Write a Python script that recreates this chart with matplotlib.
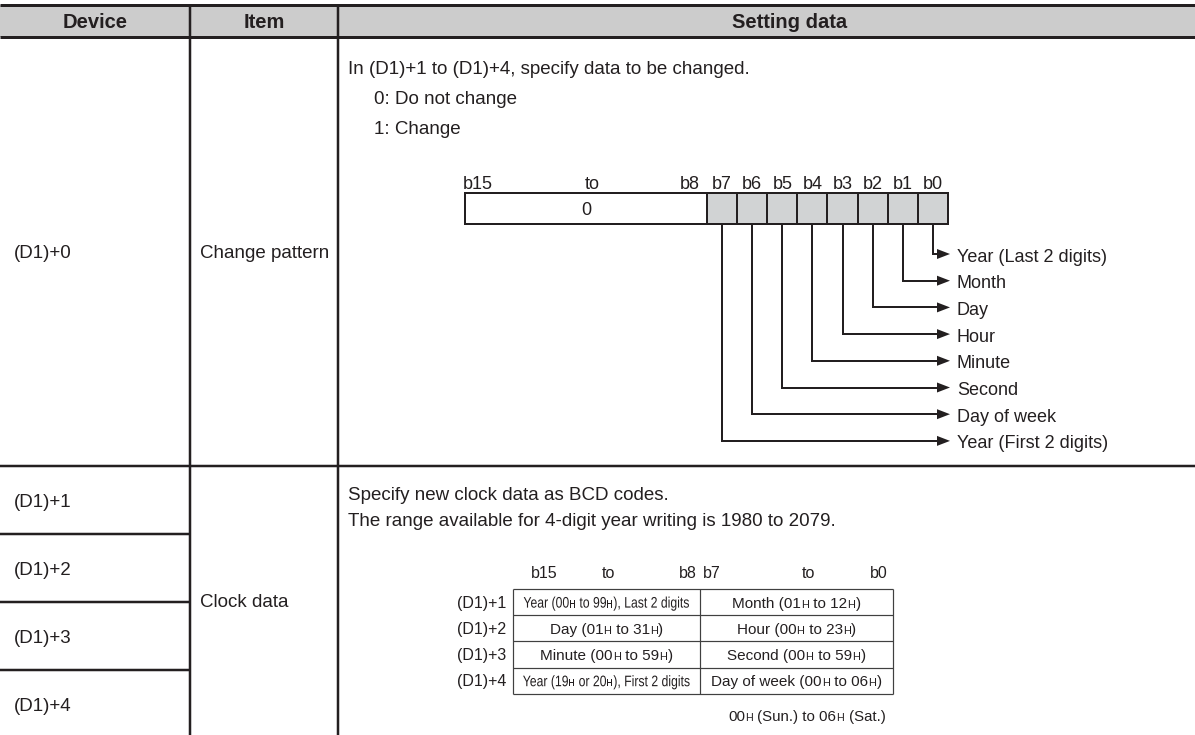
import re
import matplotlib
matplotlib.use('Agg')
import matplotlib.pyplot as plt
from matplotlib import font_manager as fm
from matplotlib.font_manager import FontProperties
from matplotlib.patches import Rectangle, Polygon, PathPatch
from matplotlib.textpath import TextPath
from matplotlib.transforms import Affine2D

# ---------------- data ----------------
header_labels = ['Device', 'Item', 'Setting data']
device_labels = ['(D1)+0', '(D1)+1', '(D1)+2', '(D1)+3', '(D1)+4']
item_labels = ['Change pattern', 'Clock data']
pattern_lines = ['In (D1)+1 to (D1)+4, specify data to be changed.',
                 '0: Do not change', '1: Change']
pattern_high_labels = ['b15', 'to', 'b8']
pattern_high_value = '0'
pattern_bits = ['b7', 'b6', 'b5', 'b4', 'b3', 'b2', 'b1', 'b0']
pattern_targets = ['Year (Last 2 digits)', 'Month', 'Day', 'Hour', 'Minute',
                   'Second', 'Day of week', 'Year (First 2 digits)']  # b0 .. b7
clock_lines = ['Specify new clock data as BCD codes.',
               'The range available for 4-digit year writing is 1980 to 2079.']
clock_bit_labels = ['b15', 'to', 'b8', 'b7', 'to', 'b0']
clock_rows = ['(D1)+1', '(D1)+2', '(D1)+3', '(D1)+4']
clock_high = ['Year (00H to 99H), Last 2 digits', 'Day (01H to 31H)',
              'Minute (00H to 59H)', 'Year (19H or 20H), First 2 digits']
clock_low = ['Month (01H to 12H)', 'Hour (00H to 23H)',
             'Second (00H to 59H)', 'Day of week (00H to 06H)']
clock_note = '00H (Sun.) to 06H (Sat.)'

# ---------------- style ----------------
W, H = 1195, 735
FONT = 'Liberation Sans'
TXT = '#231f20'
LINE = '#231f20'
HEAD_BG = '#cccccc'
CELL_BG = '#d1d3d4'
FP = FontProperties(family=FONT)

fig = plt.figure(figsize=(W / 100, H / 100), dpi=100)
ax = fig.add_axes([0, 0, 1, 1])
ax.set_xlim(0, W)
ax.set_ylim(H, 0)
ax.axis('off')
renderer = fig.canvas.get_renderer()


def px(v):
    return v * 0.72


def hline(y, x0, x1, w=2.5, c=LINE):
    ax.plot([x0, x1], [y, y], color=c, lw=px(w), solid_capstyle='butt')


def vline(x, y0, y1, w=2.5, c=LINE):
    ax.plot([x, x], [y0, y1], color=c, lw=px(w), solid_capstyle='butt')


def base(yc, size):
    em = size * 100 / 72
    return yc + 0.36 * em


def txt(x, yc, s, size, ha='left', weight='normal', family=FONT):
    ax.text(x, base(yc, size), s, fontsize=size, ha=ha, va='baseline',
            fontweight=weight, family=family, color=TXT)


def split_runs(s, size, ratio):
    parts = re.split(r'(?<=\d)(H)', s)
    runs = []
    for i, p in enumerate(parts):
        if p == '':
            continue
        runs.append((p, size * ratio if i % 2 == 1 else size, i % 2 == 1))
    return runs


def rich(x, yc, s, size, ha='center', ratio=0.72):
    runs = split_runs(s, size, ratio)
    objs, widths = [], []
    y = base(yc, size)
    for p, sz, small in runs:
        t = ax.text(0, y, p, fontsize=sz, family=FONT, ha='left',
                    va='baseline', color=TXT)
        objs.append(t)
        widths.append(t.get_window_extent(renderer).width + (0.6 if small else 0.0))
    total = sum(widths)
    start = x - total / 2 if ha == 'center' else (x - total if ha == 'right' else x)
    for t, w in zip(objs, widths):
        t.set_x(start)
        start += w


def rich_narrow(x, yc, s, size, sx=0.82, ratio=0.72):
    """Condensed text drawn as glyph paths squeezed horizontally."""
    em = size * 100 / 72
    runs = split_runs(s, em, ratio)
    paths, widths = [], []
    for p, sz, small in runs:
        tp = TextPath((0, 0), p, size=sz, prop=FP)
        paths.append(tp)
        ext = tp.get_extents()
        widths.append((ext.x1 + (0.12 * sz if small else 0.05 * sz)) * sx)
    total = sum(widths)
    start = x - total / 2
    y = yc + 0.36 * em
    for tp, w in zip(paths, widths):
        tr = Affine2D().scale(sx, -1).translate(start, y) + ax.transData
        ax.add_patch(PathPatch(tp, transform=tr, facecolor=TXT, edgecolor='none', lw=0))
        start += w


# ---------------- table frame ----------------
col1, col2 = 190, 338
head_top, head_bot = 4.5, 37
row0_bot = 466
row_lines = [534, 602, 670]

ax.add_patch(Rectangle((0, head_top), W, head_bot - head_top, facecolor=HEAD_BG,
                       edgecolor='none', zorder=0))
hline(head_top, 0, W, w=3)
hline(head_bot, 0, W, w=3)
vline(col1, head_top, H)
vline(col2, head_top, H)
hline(row0_bot, 0, W)
for y in row_lines:
    hline(y, 0, col1)

head_x = [95, 264, 790]
for x, s in zip(head_x, header_labels):
    txt(x, 21, s, 14.5, ha='center', weight='bold')

dev_y = [251, 500, 568, 636, 704]
for y, s in zip(dev_y, device_labels):
    txt(14, y, s, 13.5)
item_y = [251, 600]
for y, s in zip(item_y, item_labels):
    txt(200, y, s, 13.5)

# ---------------- change pattern ----------------
for (x, y), s in zip([(348, 67), (374, 97), (374, 127)], pattern_lines):
    txt(x, y, s, 13.5)

lab_y = 182
box_top, box_bot = 193, 224
box_l, box_split, box_r = 465, 707, 948
cw = (box_r - box_split) / len(pattern_bits)

for x, s in zip([478, 592, 690], pattern_high_labels):
    txt(x, lab_y, s, 13, ha='center')
for i, s in enumerate(pattern_bits):
    txt(box_split + cw * (i + 0.5), lab_y, s, 13, ha='center')

ax.add_patch(Rectangle((box_split, box_top), box_r - box_split, box_bot - box_top,
                       facecolor=CELL_BG, edgecolor='none', zorder=1))
hline(box_top, box_l - 1, box_r + 1, w=2)
hline(box_bot, box_l - 1, box_r + 1, w=2)
vline(box_l, box_top, box_bot, w=2)
vline(box_r, box_top, box_bot, w=2)
for i in range(len(pattern_bits)):
    vline(box_split + cw * i, box_top, box_bot, w=2)
txt((box_l + box_split) / 2, (box_top + box_bot) / 2, pattern_high_value, 13, ha='center')

arrow_y0, arrow_dy = 254, 26.7
tip_x, head_len, head_hw = 950, 13, 5
for k, label in enumerate(pattern_targets):
    cell_idx = len(pattern_bits) - 1 - k
    xc = box_split + cw * (cell_idx + 0.5)
    ya = arrow_y0 + arrow_dy * k
    vline(xc, box_bot, ya + 1, w=2)
    hline(ya, xc - 1, tip_x - head_len + 1, w=2)
    ax.add_patch(Polygon([[tip_x - head_len, ya - head_hw], [tip_x, ya],
                          [tip_x - head_len, ya + head_hw]], closed=True,
                         facecolor=LINE, edgecolor='none'))
    txt(957, ya + 1, label, 13)

# ---------------- clock data ----------------
for y, s in zip([493, 519], clock_lines):
    txt(348, y, s, 13.5)

cl_y = 572
cl_x = [(544, 'center'), (608, 'center'), (697, 'right'),
        (703, 'left'), (808, 'center'), (888, 'right')]
for (x, ha), s in zip(cl_x, clock_bit_labels):
    txt(x, cl_y, s, 11.5, ha=ha)

t_l, t_m, t_r = 513, 700, 893
t_top, t_rh = 589, 26.2
TL = '#404040'
for i in range(len(clock_rows) + 1):
    hline(t_top + t_rh * i, t_l, t_r, w=1.2, c=TL)
for x in (t_l, t_m, t_r):
    vline(x, t_top, t_top + t_rh * len(clock_rows), w=1.2, c=TL)

for i, (r, hi, lo) in enumerate(zip(clock_rows, clock_high, clock_low)):
    yc = t_top + t_rh * (i + 0.5)
    txt(506, yc, r, 11.5, ha='right')
    if hi.startswith('Year'):
        rich_narrow((t_l + t_m) / 2, yc, hi, 11, sx=0.8)
    else:
        rich((t_l + t_m) / 2, yc, hi, 11)
    rich((t_m + t_r) / 2, yc, lo, 11)

rich(728, 716, clock_note, 10.8, ha='left')

fig.savefig('out.png', dpi=100)
